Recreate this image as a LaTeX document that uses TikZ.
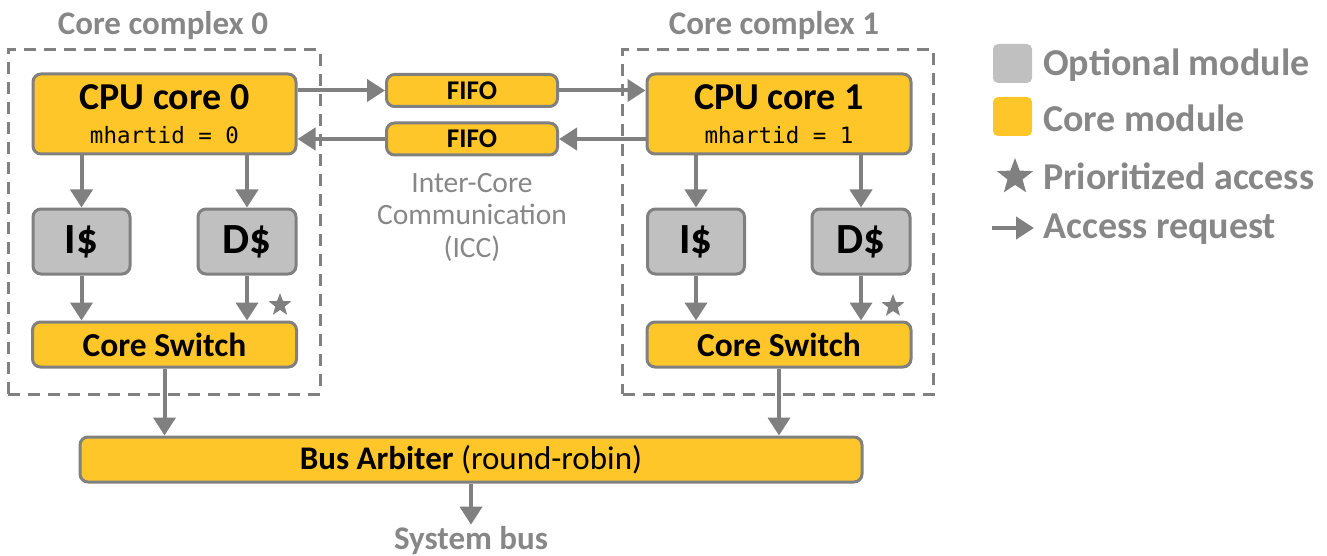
\documentclass[tikz,border=0pt]{standalone}
\usepackage{fontspec}
\setmainfont{Carlito}
\setmonofont{DejaVu Sans Mono}
\usetikzlibrary{arrows.meta,shapes.geometric}
\definecolor{coreY}{RGB}{255,198,41}
\definecolor{optG}{RGB}{192,192,192}
\definecolor{lineG}{RGB}{128,128,128}
\definecolor{txtG}{RGB}{135,135,135}
\newcommand{\fsz}[1]{\fontsize{#1}{#1}\selectfont}

\begin{document}
\begin{tikzpicture}[x=1pt,y=-1pt,
  core/.style={draw=lineG, line width=3pt, fill=coreY, rounded corners=8pt, inner sep=0pt},
  opt/.style={draw=lineG, line width=3pt, fill=optG, rounded corners=8pt, inner sep=0pt},
  req/.style={draw=lineG, line width=4pt, -{Triangle[width=22pt,length=18pt]}},
  cplx/.style={draw=lineG, line width=3pt, dash pattern=on 12pt off 8pt, inner sep=0pt},
  title/.style={text=txtG, font=\fsz{33}\bfseries},
  legtext/.style={text=txtG, font=\fsz{38}\bfseries, anchor=west, inner sep=0pt},
  prio/.style={star, star points=5, star point ratio=2.4, fill=lineG, inner sep=0pt, minimum size=#1},
]
\useasboundingbox (0,0) rectangle (1327,556);

% core complex frames and their titles
\node[cplx, minimum width=312pt, minimum height=344pt] (cc0) at (164,222) {};
\node[cplx, minimum width=311pt, minimum height=344pt] (cc1) at (778,222) {};
\node[title] (t0) at (163,26) {Core complex 0};
\node[title] (t1) at (774,26) {Core complex 1};

% CPU cores
\node[core, minimum width=263pt, minimum height=80pt, align=center, font=\fsz{38}\bfseries] (cpu0) at (164.5,114)
  {CPU core 0\\[-4pt]{\fontsize{22.5}{22.5}\selectfont\mdseries\ttfamily mhartid = 0}};
\node[core, minimum width=264pt, minimum height=80pt, align=center, font=\fsz{38}\bfseries] (cpu1) at (779,114)
  {CPU core 1\\[-4pt]{\fontsize{22.5}{22.5}\selectfont\mdseries\ttfamily mhartid = 1}};

% inter-core FIFOs
\node[core, minimum width=171pt, minimum height=32pt, font=\fsz{27}\bfseries] (fifoA) at (472,90.5) {FIFO};
\node[core, minimum width=171pt, minimum height=32pt, font=\fsz{27}\bfseries] (fifoB) at (472,139) {FIFO};
\node[text=txtG, font=\fsz{29.5}, align=center] (icc) at (472,217)
  {Inter-Core\\[3pt]Communication\\[3pt](ICC)};

% caches
\node[opt, minimum width=97pt, minimum height=65pt, font=\fsz{43}\bfseries] (i0) at (81.5,241.5) {I\$};
\node[opt, minimum width=98pt, minimum height=65pt, font=\fsz{43}\bfseries] (d0) at (247,241.5) {D\$};
\node[opt, minimum width=97pt, minimum height=65pt, font=\fsz{43}\bfseries] (i1) at (696,241.5) {I\$};
\node[opt, minimum width=98pt, minimum height=65pt, font=\fsz{43}\bfseries] (d1) at (861,241.5) {D\$};

% core switches
\node[core, minimum width=264pt, minimum height=45pt, font=\fsz{33.5}\bfseries] (sw0) at (164.5,344.5) {Core Switch};
\node[core, minimum width=264pt, minimum height=45pt, font=\fsz{33.5}\bfseries] (sw1) at (779,344.5) {Core Switch};
\node[prio=24pt] (st0) at (280,305) {};
\node[prio=24pt] (st1) at (893,306) {};

% shared bus
\node[core, minimum width=782pt, minimum height=45pt, font=\fsz{33}] (bus) at (471,459.5) {\textbf{Bus Arbiter} (round-robin)};
\node[text=txtG, font=\fsz{33}\bfseries, inner sep=2pt] (sys) at (471,541) {System bus};

% access requests
\draw[req] (cpu0.east |- fifoA.west) -- (fifoA.west);
\draw[req] (fifoA.east) -- (fifoA.east -| cpu1.west);
\draw[req] (cpu1.west |- fifoB.east) -- (fifoB.east);
\draw[req] (fifoB.west) -- (fifoB.west -| cpu0.east);

\draw[req] (i0.north |- cpu0.south) -- (i0.north);
\draw[req] (d0.north |- cpu0.south) -- (d0.north);
\draw[req] (i0.south) -- (i0.south |- sw0.north);
\draw[req] (d0.south) -- (d0.south |- sw0.north);
\draw[req] (i1.north |- cpu1.south) -- (i1.north);
\draw[req] (d1.north |- cpu1.south) -- (d1.north);
\draw[req] (i1.south) -- (i1.south |- sw1.north);
\draw[req] (d1.south) -- (d1.south |- sw1.north);

\draw[req] (sw0.south) -- (sw0.south |- bus.north);
\draw[req] (sw1.south) -- (sw1.south |- bus.north);
\draw[req] (bus.south) -- (sys.north);

% legend
\node[opt, minimum width=39pt, minimum height=39pt, rounded corners=5pt, draw=none] (lg0) at (1012.5,63.5) {};
\node[core, minimum width=39pt, minimum height=39pt, rounded corners=5pt, draw=none] (lg1) at (1012.5,116.5) {};
\node[prio=38pt] (lg2) at (1015,177) {};
\coordinate (la0) at (992,228);
\coordinate (la1) at (1034,228);
\draw[req] (la0) -- (la1);
\node[legtext] (lt0) at (1043,65) {Optional module};
\node[legtext] (lt1) at (1043,118) {Core module};
\node[legtext] (lt2) at (1043,176) {Prioritized access};
\node[legtext] (lt3) at (1043,229) {Access request};
\end{tikzpicture}
\end{document}
